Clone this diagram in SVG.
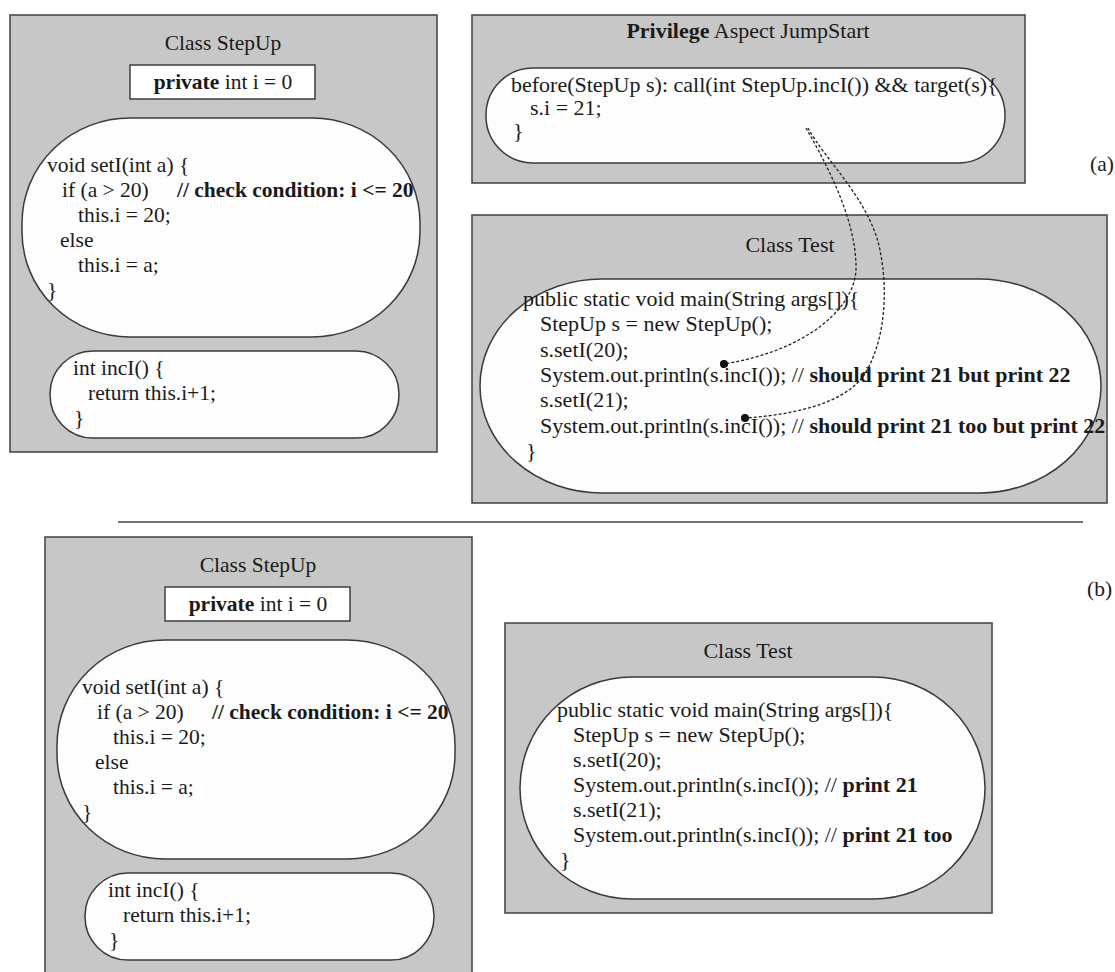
<svg xmlns="http://www.w3.org/2000/svg" width="1115" height="972" viewBox="0 0 1115 972">
<defs>
<style>
.box{fill:#c7c7c7;stroke:#4a4a4a;stroke-width:1.6}
.blob{fill:#fdfdfd;stroke:#3a3a3a;stroke-width:1.5}
.field{fill:#ffffff;stroke:#333;stroke-width:1.4}
text{font-family:"Liberation Serif","Times New Roman",serif;fill:#1a1a1a}
.l{font-size:21.5px}
.r{font-size:22px}
.b{font-weight:bold}
.title{text-anchor:middle}
.link{fill:none;stroke:#222;stroke-width:1.3;stroke-dasharray:3 2}
</style>
<marker id="dot" viewBox="0 0 10 10" refX="5" refY="5" markerWidth="9" markerHeight="9" markerUnits="userSpaceOnUse" orient="auto">
<circle cx="5" cy="5" r="4.5" fill="#111"/>
</marker>
</defs>
<rect x="0" y="0" width="1115" height="972" fill="#ffffff"/>

<g id="stepup-a">
<rect class="box" x="10" y="15" width="427" height="437"/>
<text class="l title" x="223" y="50">Class StepUp</text>
<rect class="field" x="130" y="65" width="185" height="34"/>
<text class="l title" x="223" y="89"><tspan class="b">private</tspan> int i = 0</text>
<rect class="blob" x="22" y="118" width="398" height="219" rx="108" ry="105"/>
<text class="l" x="47" y="172">void setI(int a) {</text>
<text class="l" x="62" y="197">if (a &gt; 20)</text>
<text class="l b" x="177" y="197">// check condition: i &lt;= 20</text>
<text class="l" x="78" y="222">this.i = 20;</text>
<text class="l" x="60" y="247">else</text>
<text class="l" x="78" y="272">this.i = a;</text>
<text class="l" x="47" y="297">}</text>
<rect class="blob" x="50" y="351" width="349" height="87" rx="43" ry="43"/>
<text class="l" x="73" y="375">int incI() {</text>
<text class="l" x="88" y="400">return this.i+1;</text>
<text class="l" x="74" y="425">}</text>
</g>

<g id="aspect-jumpstart">
<rect class="box" x="472" y="15" width="553" height="168"/>
<text class="r title" x="748" y="38"><tspan class="b">Privilege</tspan> Aspect JumpStart</text>
<rect class="blob" x="486" y="68" width="519" height="95" rx="47" ry="47"/>
<text class="r" x="511" y="92">before(StepUp s): call(int StepUp.incI()) &amp;&amp; target(s){</text>
<text class="r" x="530" y="115">s.i = 21;</text>
<text class="r" x="513" y="138">}</text>
</g>

<g id="test-a">
<rect class="box" x="472" y="215" width="635" height="288"/>
<text class="r title" x="790" y="252">Class Test</text>
<rect class="blob" x="480" y="279" width="621" height="214" rx="122" ry="107"/>
<text class="r" x="523" y="306">public static void main(String args[]){</text>
<text class="r" x="540" y="331">StepUp s = new StepUp();</text>
<text class="r" x="540" y="357">s.setI(20);</text>
<text class="r" x="540" y="382">System.out.println(s.incI()); // <tspan class="b">should print 21 but print 22</tspan></text>
<text class="r" x="540" y="407">s.setI(21);</text>
<text class="r" x="540" y="433">System.out.println(s.incI()); // <tspan class="b">should print 21 too but print 22</tspan></text>
<text class="r" x="526" y="458">}</text>
</g>

<g id="connectors">
<path class="link" d="M806,128 C830,170 855,220 856,265 C858,305 810,350 724,364" marker-end="url(#dot)"/>
<path class="link" d="M808,128 C825,160 870,200 880,250 C890,300 882,350 862,378 C840,405 790,415 745,418" marker-end="url(#dot)"/>
</g>

<g id="label-a"><text class="l" x="1090" y="171">(a)</text></g>

<g id="separator"><line x1="118" y1="522" x2="1083" y2="522" stroke="#444" stroke-width="1.6"/></g>

<g id="label-b"><text class="l" x="1087" y="596">(b)</text></g>

<g id="stepup-b" transform="translate(35,522)">
<rect class="box" x="10" y="15" width="427" height="460"/>
<text class="l title" x="223" y="50">Class StepUp</text>
<rect class="field" x="130" y="65" width="185" height="34"/>
<text class="l title" x="223" y="89"><tspan class="b">private</tspan> int i = 0</text>
<rect class="blob" x="22" y="118" width="398" height="219" rx="108" ry="105"/>
<text class="l" x="47" y="172">void setI(int a) {</text>
<text class="l" x="62" y="197">if (a &gt; 20)</text>
<text class="l b" x="177" y="197">// check condition: i &lt;= 20</text>
<text class="l" x="78" y="222">this.i = 20;</text>
<text class="l" x="60" y="247">else</text>
<text class="l" x="78" y="272">this.i = a;</text>
<text class="l" x="47" y="297">}</text>
<rect class="blob" x="50" y="351" width="349" height="87" rx="43" ry="43"/>
<text class="l" x="73" y="375">int incI() {</text>
<text class="l" x="88" y="400">return this.i+1;</text>
<text class="l" x="74" y="425">}</text>
</g>

<g id="test-b">
<rect class="box" x="505" y="623" width="487" height="290"/>
<text class="r title" x="748" y="658">Class Test</text>
<rect class="blob" x="520" y="677" width="465" height="222" rx="112" ry="111"/>
<text class="r" x="557" y="717">public static void main(String args[]){</text>
<text class="r" x="573" y="742">StepUp s = new StepUp();</text>
<text class="r" x="573" y="767">s.setI(20);</text>
<text class="r" x="573" y="792">System.out.println(s.incI()); // <tspan class="b">print 21</tspan></text>
<text class="r" x="573" y="817">s.setI(21);</text>
<text class="r" x="573" y="842">System.out.println(s.incI()); // <tspan class="b">print 21 too</tspan></text>
<text class="r" x="560" y="867">}</text>
</g>
</svg>
